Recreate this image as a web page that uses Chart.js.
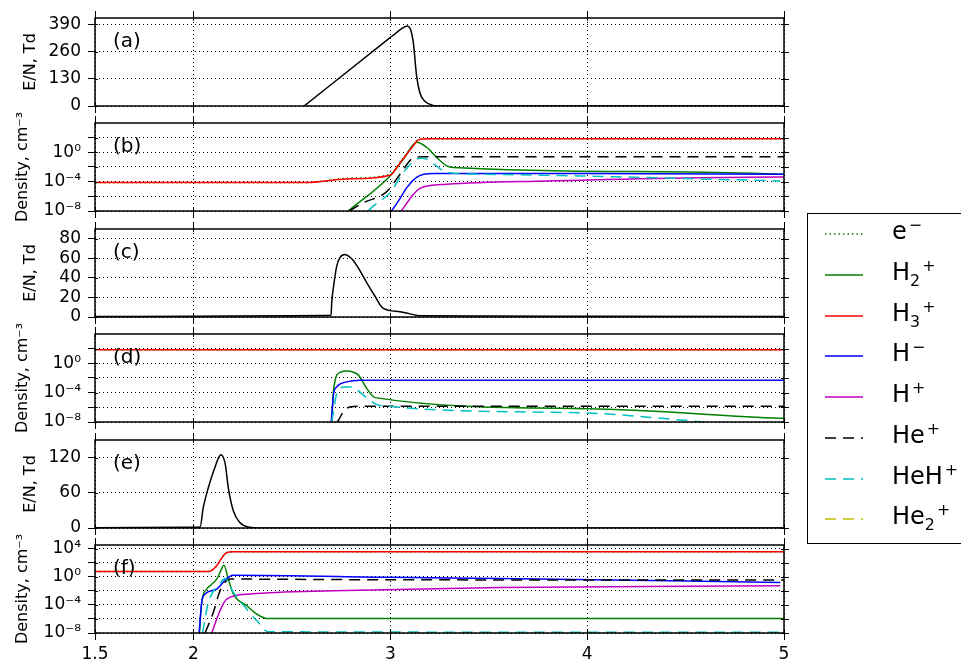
<!DOCTYPE html>
<html>
<head>
<meta charset="utf-8">
<script src="https://cdn.jsdelivr.net/npm/chart.js@4.4.0/dist/chart.umd.min.js"></script>
<style>
  html, body { margin: 0; padding: 0; background: #fff; }
  #wrap { position: relative; width: 961px; height: 661px; overflow: hidden; font-family: 'DejaVu Sans', sans-serif; }
  #wrap canvas { position: absolute; left: 0; }
  #legend { position: absolute; left: 807px; top: 213px; width: 190px; height: 331px; border: 1.5px solid #000; box-sizing: border-box; background: #fff; }
  .row { position: absolute; left: 0; width: 190px; height: 30px; }
  .row svg { position: absolute; left: 17px; top: 10px; }
  .row span { position: absolute; left: 84px; top: -3px; font-size: 24px; line-height: 30px; white-space: nowrap; color: #000; }
  .row sub, .row sup { font-size: 66%; line-height: 0; }
  .row sup { margin-left: 2px; }
</style>
</head>
<body>
<div id="wrap">
  <div id="legend"></div>
</div>
<script>
// x axis (shared by every panel)
const xTicks = [1.5, 2, 3, 4, 5];
const xTickText = ['1.5', '2', '3', '4', '5'];

// E/N panels: tick values
const enTicksA = [0, 130, 260, 390];
const enTicksC = [0, 20, 40, 60, 80];
const enTicksE = [0, 60, 120];

// log panels: grid every 2 decades, label every 4
const logTicks = [1e-8, 1e-6, 1e-4, 1e-2, 1e0, 1e2, 1e4];
const logTickText = ['10⁻⁸', '', '10⁻⁴', '', '10⁰', '', '10⁴'];

// species (legend order)
const speciesLabels = ['e<sup>−</sup>', 'H<sub>2</sub><sup>+</sup>', 'H<sub>3</sub><sup>+</sup>', 'H<sup>−</sup>',
  'H<sup>+</sup>', 'He<sup>+</sup>', 'HeH<sup>+</sup>', 'He<sub>2</sub><sup>+</sup>'];
const speciesColors = ['#008000', '#008000', '#ff0000', '#0000ff', '#bf00bf', '#000000', '#00bfbf', '#bfbf00'];
const speciesDash = [[1.5, 3], [], [], [], [], [11, 7], [11, 7], [11, 7]];

// (a) E/N, Td
const tA = [2.562, 2.999, 3.030, 3.060, 3.085, 3.100, 3.117, 3.134, 3.151, 3.177, 3.217, 3.26, 5.0];
const enA = [0, 326, 349, 370, 382, 372, 302, 141, 61, 21, 3, 0, 0];

// (b) densities
const bT_e = [1.5, 2.567, 2.78, 2.999, 3.050, 3.117, 3.141, 3.187, 5.0];
const bN_e = [7.4e-5, 7.4e-5, 2.9e-4, 1.0e-3, 5e-2, 9, 50, 68, 68];
const bT_H2 = [2.787, 2.999, 3.067, 3.135, 3.185, 3.219, 3.253, 3.287, 3.321, 4.507, 4.981, 5.0];
const bN_H2 = [1e-8, 6e-4, 0.12, 24, 4.9, 0.59, 7.1e-2, 1.45e-2, 8.7e-3, 2.1e-3, 1.05e-3, 1.0e-3];
const bT_H3 = [1.5, 2.567, 2.78, 2.999, 3.050, 3.117, 3.141, 3.187, 5.0];
const bN_H3 = [7.4e-5, 7.4e-5, 2.3e-4, 7.6e-4, 3.7e-2, 8, 49, 68, 68];
const bT_Hm = [3.0, 3.041, 3.084, 3.130, 3.170, 3.219, 4.0, 5.0];
const bN_Hm = [6e-9, 2.2e-7, 1.55e-5, 3.2e-4, 1e-3, 1.26e-3, 1.26e-3, 1.05e-3];
const bT_Hp = [3.05, 3.117, 3.151, 3.287, 3.795, 4.981, 5.0];
const bN_Hp = [6e-9, 1.8e-6, 1.23e-5, 4.4e-5, 1.26e-4, 4.4e-4, 4.4e-4];
const bT_He = [2.79, 2.863, 2.982, 3.050, 3.117, 3.168, 5.0];
const bN_He = [1e-8, 1.3e-7, 4.3e-6, 1.05e-3, 0.166, 0.25, 0.25];
const bT_HeH = [2.887, 2.914, 2.999, 3.067, 3.135, 3.160, 3.185, 3.270, 3.338, 3.456, 3.964, 4.507, 4.981];
const bN_HeH = [1e-8, 4.6e-8, 3.2e-6, 1.8e-3, 0.12, 0.15, 0.12, 2.95e-3, 1.29e-3, 1.05e-3, 6e-4, 2.6e-4, 1.26e-4];

// (c) E/N, Td
const tC = [1.5, 2.0, 2.5, 2.699, 2.703, 2.711, 2.728, 2.745, 2.770, 2.790, 2.811, 2.850, 2.881, 2.920, 2.963, 3.05, 3.10, 3.151, 3.5, 4.0, 5.0];
const enC = [0.5, 0.8, 1.3, 1.7, 16, 30, 52, 61, 64, 62, 58, 46, 35, 22, 9, 5.3, 3.2, 1.2, 0.9, 0.7, 0.5];

// (d) densities
const dT_e = [1.5, 5.0];
const dN_e = [68, 68];
const dT_H2 = [2.703, 2.711, 2.720, 2.728, 2.750, 2.779, 2.810, 2.838, 2.881, 2.923, 3.998, 4.981, 5.0];
const dN_H2 = [1e-8, 1.26e-4, 5e-3, 2.45e-2, 6.5e-2, 8.7e-2, 6.5e-2, 2.45e-2, 3.6e-4, 2.1e-5, 6.5e-7, 3.3e-8, 3.2e-8];
const dT_H3 = [1.5, 5.0];
const dN_H3 = [68, 68];
const dT_Hm = [2.700, 2.711, 2.728, 2.779, 2.847, 5.0];
const dN_Hm = [1e-8, 4.4e-5, 6e-4, 2.95e-3, 5e-3, 5e-3];
const dT_He = [2.728, 2.736, 2.770, 2.830, 5.0];
const dN_He = [8e-9, 1.6e-8, 5.1e-7, 1.35e-6, 1.35e-6];
const dT_HeH = [2.703, 2.711, 2.728, 2.770, 2.804, 2.855, 2.897, 2.948, 3.964, 4.507, 4.640, 5.0];
const dN_HeH = [1e-8, 2.2e-7, 7.4e-5, 6e-4, 6e-4, 7.4e-5, 8.9e-6, 1.8e-6, 1.8e-7, 1.6e-8, 8e-9, 5e-9];

// (e) E/N, Td
const tE = [1.5, 2.0, 2.034, 2.050, 2.076, 2.110, 2.139, 2.161, 2.177, 2.203, 2.237, 2.279, 2.35, 5.0];
const enE = [0.5, 1.2, 1.7, 35, 69, 104, 125, 110, 69, 29, 9, 1.7, 0, 0];

// (f) densities
const fT_e = [1.5, 2.075, 2.095, 2.118, 2.140, 2.155, 2.170, 2.200, 5.0];
const fN_e = [5.6, 5.6, 8.9, 36, 320, 1260, 2800, 3500, 3500];
const fT_H2 = [2.030, 2.042, 2.068, 2.084, 2.118, 2.135, 2.155, 2.177, 2.203, 2.271, 2.322, 2.372, 5.0];
const fN_H2 = [5e-9, 2.2e-4, 1.8e-2, 5.2e-2, 0.47, 4, 45, 0.47, 3.5e-3, 7.4e-5, 4.9e-6, 1.2e-6, 1.2e-6];
const fT_H3 = [1.5, 2.075, 2.095, 2.118, 2.140, 2.155, 2.170, 2.200, 5.0];
const fN_H3 = [5.6, 5.6, 8.9, 36, 320, 1260, 2800, 3500, 3500];
const fT_Hm = [2.028, 2.042, 2.059, 2.118, 2.169, 2.203, 3.0, 3.304, 3.558, 4.981];
const fN_Hm = [5e-9, 2.2e-4, 3.5e-3, 1.8e-2, 0.58, 1.7, 0.85, 0.65, 0.58, 0.15];
const fT_Hp = [2.093, 2.135, 2.169, 2.288, 2.711, 3.558, 4.981];
const fN_Hp = [1e-8, 1.45e-5, 6.8e-4, 3.5e-3, 1.0e-2, 3.0e-2, 5.2e-2];
const fT_He = [2.059, 2.101, 2.135, 2.186, 3.0, 5.0];
const fN_He = [1e-8, 8.3e-6, 1.0e-2, 0.47, 0.37, 0.35];
const fT_HeH = [2.046, 2.076, 2.135, 2.161, 2.203, 2.271, 2.322, 2.381, 5.0];
const fN_HeH = [1e-8, 2.2e-4, 0.11, 0.58, 5.9e-3, 2.5e-5, 5.5e-7, 1.5e-8, 1.25e-8];

// layout
const panelTop = [18, 123, 229, 334, 440, 545];
const plotH = 88;
const plotLeft = 95;

Chart.defaults.font.family = "'DejaVu Sans', sans-serif";
Chart.defaults.font.size = 17;
Chart.defaults.color = '#000';

const pts = (t, v) => t.map((x, i) => ({ x: x, y: v[i] }));

// box, top/right ticks and the panel letter
const framePlugin = {
  id: 'frame',
  afterDraw(chart, args, opts) {
    const ctx = chart.ctx;
    const a = chart.chartArea;
    const xs = chart.scales.x, ys = chart.scales.y;
    ctx.save();
    ctx.strokeStyle = '#000';
    ctx.lineWidth = 1;
    ctx.beginPath();
    xs.ticks.forEach(t => {
      const px = Math.round(xs.getPixelForValue(t.value)) + 0.5;
      ctx.moveTo(px, a.top - 7); ctx.lineTo(px, a.top + 3);
      ctx.moveTo(px, a.bottom - 3); ctx.lineTo(px, a.bottom);
    });
    ys.ticks.forEach(t => {
      const py = Math.round(ys.getPixelForValue(t.value)) + 0.5;
      ctx.moveTo(a.right - 3, py); ctx.lineTo(a.right + 5, py);
      ctx.moveTo(a.left, py); ctx.lineTo(a.left + 3, py);
    });
    ctx.stroke();
    ctx.lineWidth = 1.5;
    ctx.strokeRect(a.left, a.top, a.right - a.left, a.bottom - a.top);
    ctx.fillStyle = '#000';
    ctx.font = "20px 'DejaVu Sans'";
    ctx.textBaseline = 'middle';
    ctx.fillText(opts.letter, a.left + 18, a.top + 24);
    ctx.restore();
  }
};

function makePanel(idx, spec) {
  const wrap = document.getElementById('wrap');
  const top = panelTop[idx] - 30;
  const h = idx === 5 ? 661 - top : plotH + 60;
  const isLast = idx === 5;
  const padL = spec.log ? 13 : 21;
  const cv = document.createElement('canvas');
  cv.width = 800;
  cv.height = h;
  cv.style.top = top + 'px';
  wrap.insertBefore(cv, document.getElementById('legend'));

  let y;
  if (spec.log) {
    y = {
      type: 'logarithmic', min: 1e-8, max: spec.max,
      afterBuildTicks: s => { s.ticks = logTicks.filter(v => v <= spec.max).map(v => ({ value: v })); },
      ticks: { autoSkip: false, padding: 7, font: { size: 17 }, callback: v => logTickText[logTicks.indexOf(v)] || '' }
    };
  } else {
    y = {
      type: 'linear', min: 0, max: spec.max,
      afterBuildTicks: s => { s.ticks = spec.ticks.map(v => ({ value: v })); },
      ticks: { autoSkip: false, padding: 7, font: { size: 17 } }
    };
  }
  Object.assign(y, {
    afterFit: s => { s.width = plotLeft - padL; },
    title: { display: true, text: spec.title, padding: { top: 0, bottom: 0 }, font: { size: 16 } },
    grid: { color: '#000', lineWidth: 1, tickLength: 7, tickColor: '#000', tickWidth: 1 },
    border: { display: false, dash: [1, 3] }
  });

  new Chart(cv, {
    type: 'line',
    data: { datasets: spec.datasets },
    options: {
      responsive: false,
      animation: false,
      events: [],
      layout: { padding: { top: 30, left: padL, right: 16, bottom: 0 } },
      plugins: { legend: { display: false }, tooltip: { enabled: false }, frame: { letter: spec.letter } },
      elements: { point: { radius: 0 }, line: { borderWidth: 1.5, cubicInterpolationMode: 'monotone' } },
      scales: {
        x: {
          type: 'linear', min: 1.5, max: 5,
          afterBuildTicks: s => { s.ticks = xTicks.map(v => ({ value: v })); },
          afterFit: s => { s.height = h - 30 - plotH; },
          ticks: { display: isLast, autoSkip: false, maxRotation: 0, padding: 4, font: { size: 17 },
                   callback: v => xTickText[xTicks.indexOf(v)] },
          grid: { color: '#000', lineWidth: 1, tickLength: 7, tickColor: '#000', tickWidth: 1 },
          border: { display: false, dash: [1, 3] }
        },
        y: y
      }
    },
    plugins: [framePlugin]
  });
}

function enSet(t, v) {
  return [{ data: pts(t, v), borderColor: '#000', borderWidth: 1.5 }];
}

// one entry per species, null where the curve is off the scale
function denSet(series) {
  const out = [];
  series.forEach((s, i) => {
    if (!s) return;
    out.push({
      data: pts(s[0], s[1]),
      borderColor: speciesColors[i],
      borderDash: speciesDash[i],
      borderWidth: 1.5,
      order: 20 - i
    });
  });
  return out;
}

makePanel(0, { letter: '(a)', title: 'E/N, Td', max: 420, ticks: enTicksA, datasets: enSet(tA, enA) });
makePanel(1, { letter: '(b)', title: 'Density, cm⁻³', log: true, max: 9.9e3,
  datasets: denSet([[bT_e, bN_e], [bT_H2, bN_H2], [bT_H3, bN_H3], [bT_Hm, bN_Hm], [bT_Hp, bN_Hp], [bT_He, bN_He], [bT_HeH, bN_HeH], null]) });
makePanel(2, { letter: '(c)', title: 'E/N, Td', max: 90, ticks: enTicksC, datasets: enSet(tC, enC) });
makePanel(3, { letter: '(d)', title: 'Density, cm⁻³', log: true, max: 9.9e3,
  datasets: denSet([[dT_e, dN_e], [dT_H2, dN_H2], [dT_H3, dN_H3], [dT_Hm, dN_Hm], null, [dT_He, dN_He], [dT_HeH, dN_HeH], null]) });
makePanel(4, { letter: '(e)', title: 'E/N, Td', max: 150, ticks: enTicksE, datasets: enSet(tE, enE) });
makePanel(5, { letter: '(f)', title: 'Density, cm⁻³', log: true, max: 3.3e4,
  datasets: denSet([[fT_e, fN_e], [fT_H2, fN_H2], [fT_H3, fN_H3], [fT_Hm, fN_Hm], [fT_Hp, fN_Hp], [fT_He, fN_He], [fT_HeH, fN_HeH], null]) });

// legend
const legend = document.getElementById('legend');
speciesLabels.forEach((lab, i) => {
  const row = document.createElement('div');
  row.className = 'row';
  row.style.top = (5 + i * 40.75) + 'px';
  const dash = speciesDash[i].length ? speciesDash[i].join(',') : 'none';
  row.innerHTML = '<svg width="40" height="10"><line x1="0" y1="5" x2="38" y2="5" stroke="' + speciesColors[i] +
    '" stroke-width="1.5" stroke-dasharray="' + dash + '"/></svg><span>' + lab + '</span>';
  legend.appendChild(row);
});
</script>
</body>
</html>
